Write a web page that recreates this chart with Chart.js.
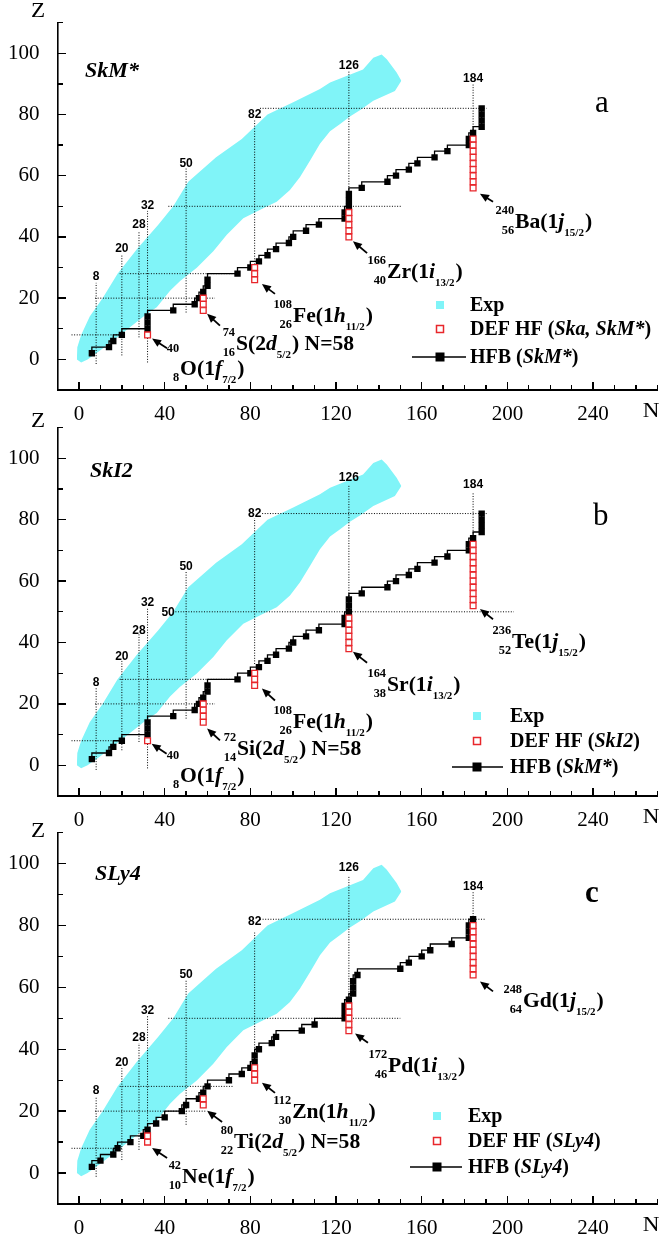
<!DOCTYPE html>
<html><head><meta charset="utf-8">
<script src="https://cdn.jsdelivr.net/npm/chart.js@4.4.1/dist/chart.umd.min.js"></script>
<style>
html,body{margin:0;padding:0;background:#fff;}
#wrap{position:relative;width:663px;height:1240px;background:#fff;overflow:hidden;}
canvas{position:absolute;left:0;}
.ax{position:absolute;background:#000;z-index:5;pointer-events:none;}
</style></head><body><div id="wrap">
<canvas id="panelA" width="663" height="430" style="top:0px"></canvas>
<canvas id="panelB" width="663" height="430" style="top:405px"></canvas>
<canvas id="panelC" width="663" height="430" style="top:810px"></canvas>
</div>
<script>
// ---------- DATA ----------
const xTickLabels = [0, 40, 80, 120, 160, 200, 240];
const yTickLabels = [0, 20, 40, 60, 80, 100];

// Exp band (known nuclei): proton-rich (upper) edge and neutron-rich (lower) edge
const expUpperN = [-1, -0.8, 1, 5, 11, 18, 27, 37, 44, 51, 64, 76, 88, 100, 112.5, 117.2, 132.6, 137.4, 141.3, 143.7, 148.3, 150.5];
const expUpperZ = [0, 4, 8, 14, 20, 28, 36, 44, 50, 58, 66, 72, 80, 84, 88.3, 90.4, 94.7, 98.5, 99.6, 98, 93.7, 91];
const expLowerN = [-1, 1, 4, 9.8, 16, 23.8, 31.6, 36.3, 42.5, 47.2, 55, 62.7, 69, 76.7, 86, 92.3, 98.5, 103.2, 107.9, 112.5, 117.2, 121.9, 126.5, 131.5, 137.4, 147.5, 150.5];
const expLowerZ = [0, -1, 0, 2.9, 6.2, 10.5, 14.8, 17, 22.4, 25.6, 29.9, 35.3, 40.7, 46.1, 49.4, 51.5, 55.3, 59.6, 65, 70.4, 74.5, 76.9, 79.3, 81.5, 84.5, 87.7, 91];

// HFB (SkM*) drip line
const hfbSkmN = [6,14,16,20,32,32,32,44,54,56,58,60,60,74,80,84,88,92,98,100,106,112,124,124,126,126,126,132,144,148,154,158,166,172,182,182,184,188,188,188,188];
const hfbSkmZ = [2,4,6,8,10,12,14,16,18,20,22,24,26,28,30,32,34,36,38,40,42,44,46,48,50,52,54,56,58,60,62,64,66,68,70,72,74,76,78,80,82];
// HFB (SLy4) drip line
const hfbSlyN = [6,10,16,18,24,30,32,36,40,48,50,56,58,60,70,76,80,82,82,84,90,92,104,110,124,124,124,126,128,128,128,130,150,154,160,164,174,182,182,182,184];
const hfbSlyZ = [2,4,6,8,10,12,14,16,18,20,22,24,26,28,30,32,34,36,38,40,42,44,46,48,50,52,54,56,58,60,62,64,66,68,70,72,74,76,78,80,82];

// DEF HF
const defAN = [32,58,58,58,82,82,82,126,126,126,126,126,184,184,184,184,184,184,184,184,184];
const defAZ = [8,16,18,20,26,28,30,40,42,44,46,48,56,58,60,62,64,66,68,70,72];
const defBN = [32,58,58,58,58,82,82,82,126,126,126,126,126,126,184,184,184,184,184,184,184,184,184,184,184];
const defBZ = [8,14,16,18,20,26,28,30,38,40,42,44,46,48,52,54,56,58,60,62,64,66,68,70,72];
const defCN = [32,32,58,58,82,82,82,126,126,126,126,126,184,184,184,184,184,184,184,184,184];
const defCZ = [10,12,22,24,30,32,34,46,48,50,52,54,64,66,68,70,72,74,76,78,80];

// Magic numbers
const magicN = [8, 20, 28, 32, 50, 82, 126, 184];
const magicZ = [8, 20, 28, 50, 82];
const vLoA = [-1.5, 1.3, 7.2, -1, 15.3, 31, 49.5, 73.3];
const vHiA = [25, 34, 42, 48.5, 62.5, 78, 94, 90];
const vLabA = [27, 36, 44, 50.3, 64, 80, 96, 91.8];
const vLoB = [-1.5, 4.9, 7.6, -1, 15.2, 33, 49.2, 73];
const vHiB = [25.3, 34, 42.7, 51.3, 63.2, 80.5, 91.4, 89];
const vLabB = [26.8, 35.5, 44, 53, 64.8, 82.1, 93.7, 91.3];
const vLoC = [-1.2, 4.2, 7.5, 10, 15.6, 31.2, 50, 82];
const vHiC = [24.7, 33.9, 42, 50.7, 62.6, 77.7, 96, 91];
const vLabC = [26.6, 35.6, 43.8, 52.6, 64.2, 81.1, 98.8, 92.6];
const hFromA = [-3.5, 7.5, 19, 41.7, 84.5];
const hToA = [20, 63.5, 73, 150.3, 190.3];
const hFromB = [-3.5, 7.5, 19, 45, 85.5];
const hToB = [20, 63.5, 73, 203, 190.3];
const hFromC = [-3.5, 7.5, 19, 41.7, 84.5];
const hToC = [20, 59.6, 72, 150, 190];

// ---------- STYLE / LAYOUT ----------
const CYAN = '#80F4F8';
const RED = '#E8262B';
const SERIF = '"Liberation Serif", "Times New Roman", serif';
const SANS = '"Liberation Sans", Arial, sans-serif';
const X_MIN = -10, X_MAX = 270, Y_MIN = -10, Y_MAX = 110;

const panels = [
  {
    id: 'panelA', canvasTop: 0, canvasH: 430, areaTop: 20, areaBottom: 390, model: 'SkM*', modelPos: [85, 77], letter: 'a', letterPos: [595, 112], letterBold: false,
    zPos: [38, 11], hfbN: hfbSkmN, hfbZ: hfbSkmZ, defN: defAN, defZ: defAZ,
    vLo: vLoA, vHi: vHiA, vLab: vLabA, hFrom: hFromA, hTo: hToA, z50Label: false,
    legend: { mx: 440, ys: [305, 329, 357], tx: 470, lx1: 412, lx2: 466, def: 'Ska, SkM*', hfb: 'SkM*' },
    nuclei: [
      { n: 47.2, z: -5.2, A: '40', Zs: '8', sym: 'O', open: '(1', l: 'f', j: '7/2', tail: ')', supDy: 27, arrow: [41.1, 3.6, 34.1, 6.8] },
      { n: 73.3, z: 3.2, A: '74', Zs: '16', sym: 'S', open: '(2', l: 'd', j: '5/2', tail: ') N=58', arrow: [65.8, 11, 59.8, 14.9] },
      { n: 99.9, z: 12.3, A: '108', Zs: '26', sym: 'Fe', open: '(1', l: 'h', j: '11/2', tail: ')', arrow: [91.5, 21.4, 85.4, 24.6] },
      { n: 143.8, z: 26.6, A: '166', Zs: '40', sym: 'Zr', open: '(1', l: 'i', j: '13/2', tail: ')', arrow: [134.5, 34.7, 127.9, 38.6] },
      { n: 203.6, z: 42.8, A: '240', Zs: '56', sym: 'Ba', open: '(1', l: 'j', j: '15/2', tail: ')', arrow: [193.3, 51.5, 187.2, 54.1] }
    ]
  },
  {
    id: 'panelB', canvasTop: 405, canvasH: 430, areaTop: 21, areaBottom: 391, model: 'SkI2', modelPos: [90, 72], letter: 'b', letterPos: [593, 120], letterBold: false,
    zPos: [38, 16], hfbN: hfbSkmN, hfbZ: hfbSkmZ, defN: defBN, defZ: defBZ,
    vLo: vLoB, vHi: vHiB, vLab: vLabB, hFrom: hFromB, hTo: hToB, z50Label: true,
    legend: { mx: 477, ys: [311, 336, 362], tx: 510, lx1: 452, lx2: 503, def: 'SkI2', hfb: 'SkM*' },
    nuclei: [
      { n: 47.2, z: -5.5, A: '40', Zs: '8', sym: 'O', open: '(1', l: 'f', j: '7/2', tail: ')', supDy: 27, arrow: [40.9, 3.8, 33.9, 7] },
      { n: 73.8, z: 3.2, A: '72', Zs: '14', sym: 'Si', open: '(2', l: 'd', j: '5/2', tail: ') N=58', arrow: [65.8, 8.1, 59.8, 12] },
      { n: 99.9, z: 12, A: '108', Zs: '26', sym: 'Fe', open: '(1', l: 'h', j: '11/2', tail: ')', arrow: [91.5, 21.1, 85.4, 25] },
      { n: 143.8, z: 24.3, A: '164', Zs: '38', sym: 'Sr', open: '(1', l: 'i', j: '13/2', tail: ')', arrow: [134.5, 33.4, 127.9, 37] },
      { n: 202.2, z: 38.2, A: '236', Zs: '52', sym: 'Te', open: '(1', l: 'j', j: '15/2', tail: ')', arrow: [193.3, 47.6, 187.2, 50.9] }
    ]
  },
  {
    id: 'panelC', canvasTop: 810, canvasH: 430, areaTop: 24, areaBottom: 394, model: 'SLy4', modelPos: [95, 70], letter: 'c', letterPos: [585, 92], letterBold: true,
    zPos: [38, 21], hfbN: hfbSlyN, hfbZ: hfbSlyZ, defN: defCN, defZ: defCZ,
    vLo: vLoC, vHi: vHiC, vLab: vLabC, hFrom: hFromC, hTo: hToC, z50Label: false,
    legend: { mx: 437, ys: [306, 331, 357], tx: 468, lx1: 410, lx2: 462, def: 'SLy4', hfb: 'SLy4' },
    nuclei: [
      { n: 48.1, z: -3.2, A: '42', Zs: '10', sym: 'Ne', open: '(1', l: 'f', j: '7/2', tail: ')', arrow: [41.1, 4.9, 34.1, 8.1] },
      { n: 72.4, z: 8.1, A: '80', Zs: '22', sym: 'Ti', open: '(2', l: 'd', j: '5/2', tail: ') N=58', arrow: [66.8, 16.5, 59.8, 20.1] },
      { n: 99.5, z: 17.8, A: '112', Zs: '30', sym: 'Zn', open: '(1', l: 'h', j: '11/2', tail: ')', arrow: [91.5, 25.9, 85.4, 29.2] },
      { n: 144.3, z: 32.7, A: '172', Zs: '46', sym: 'Pd', open: '(1', l: 'i', j: '13/2', tail: ')', arrow: [134.9, 42.1, 128.9, 45.1] },
      { n: 207.3, z: 53.5, A: '248', Zs: '64', sym: 'Gd', open: '(1', l: 'j', j: '15/2', tail: ')', arrow: [193.3, 58.7, 187.2, 61.9] }
    ]
  }
];

const zip = (a, b) => a.map((v, i) => ({ x: v, y: b[i] }));

// ---------- DRAW HELPERS ----------
function txt(ctx, s, x, y, font, sx, align) {
  ctx.font = font;
  const w = ctx.measureText(s).width * sx;
  let x0 = x;
  if (align === 'right') x0 = x - w; else if (align === 'center') x0 = x - w / 2;
  ctx.save(); ctx.translate(x0, y); ctx.scale(sx, 1); ctx.textAlign = 'left'; ctx.fillText(s, 0, 0); ctx.restore();
  return w;
}
function arrow(ctx, x1, y1, x2, y2) {
  const a = Math.atan2(y2 - y1, x2 - x1), L = 9, W = 4;
  ctx.lineWidth = 1.8;
  ctx.beginPath(); ctx.moveTo(x1, y1); ctx.lineTo(x2 - Math.cos(a) * L * 0.7, y2 - Math.sin(a) * L * 0.7); ctx.stroke();
  ctx.beginPath(); ctx.moveTo(x2, y2);
  ctx.lineTo(x2 - L * Math.cos(a) + W * Math.sin(a), y2 - L * Math.sin(a) - W * Math.cos(a));
  ctx.lineTo(x2 - L * Math.cos(a) - W * Math.sin(a), y2 - L * Math.sin(a) + W * Math.cos(a));
  ctx.closePath(); ctx.fill();
}
const SX = 1.03;
function drawNuc(ctx, px, py, L) {
  const MAIN = 'bold 21px ' + SERIF, MAINI = 'bold italic 21px ' + SERIF, SCR = 'bold 12px ' + SERIF, SUB = 'bold 11px ' + SERIF;
  ctx.textBaseline = 'alphabetic';
  const supDy = L.supDy || 18;
  txt(ctx, L.A, px - 1, py - supDy + 4, SCR, SX, 'right');
  txt(ctx, L.Zs, px - 1, py + 6, SCR, SX, 'right');
  let x = px;
  x += txt(ctx, L.sym + L.open, x, py, MAIN, SX);
  x += txt(ctx, L.l, x, py, MAINI, SX);
  x += txt(ctx, L.j, x, py + 8, SUB, 1) + 1;
  txt(ctx, L.tail, x, py, MAIN, SX);
}
function drawRich(ctx, parts, x, y, size) {
  for (const [s, st] of parts) {
    const f = (st === 'bi' ? 'bold italic ' : 'bold ') + size + 'px ' + SERIF;
    x += txt(ctx, s, x, y, f, 1);
  }
}

function makeDeco(p) {
  return {
    id: 'deco' + p.id,
    afterDraw(chart) {
      const ctx = chart.ctx, xs = chart.scales.x, ys = chart.scales.y, area = chart.chartArea;
      const X = v => xs.getPixelForValue(v), Y = v => ys.getPixelForValue(v);
      ctx.save();
      ctx.setLineDash([]);
      ctx.strokeStyle = '#000'; ctx.fillStyle = '#000';
      ctx.textBaseline = 'middle';
      magicN.forEach((n, i) => txt(ctx, String(n), X(n), Y(p.vLab[i]), 'bold 12px ' + SANS, 1, 'center'));
      if (p.z50Label) txt(ctx, '50', X(41.6), Y(49.6), 'bold 12px ' + SANS, 1, 'center');
      p.nuclei.forEach(L => {
        drawNuc(ctx, X(L.n), Y(L.z), L);
        const a = L.arrow; arrow(ctx, X(a[0]), Y(a[1]), X(a[2]), Y(a[3]));
      });
      ctx.textBaseline = 'middle';
      txt(ctx, 'Z', p.zPos[0], p.zPos[1], '22px ' + SERIF, 1.05, 'center');
      txt(ctx, 'N', 651, area.bottom + 21, '22px ' + SERIF, 1.05, 'center');
      ctx.textBaseline = 'alphabetic';
      txt(ctx, p.model, p.modelPos[0], p.modelPos[1], 'bold italic 21px ' + SERIF, 1.05);
      txt(ctx, p.letter, p.letterPos[0], p.letterPos[1], (p.letterBold ? 'bold ' : '') + '31px ' + SERIF, 1);
      const lg = p.legend;
      ctx.fillStyle = CYAN; ctx.fillRect(lg.mx - 4, lg.ys[0] - 4, 8, 8);
      ctx.fillStyle = '#fff'; ctx.fillRect(lg.mx - 3.5, lg.ys[1] - 3.5, 7, 7);
      ctx.strokeStyle = RED; ctx.lineWidth = 1.5; ctx.strokeRect(lg.mx - 3.5, lg.ys[1] - 3.5, 7, 7);
      ctx.strokeStyle = '#000'; ctx.lineWidth = 1.3;
      ctx.beginPath(); ctx.moveTo(lg.lx1, lg.ys[2]); ctx.lineTo(lg.lx2, lg.ys[2]); ctx.stroke();
      ctx.fillStyle = '#000'; ctx.fillRect(lg.mx - 4.5, lg.ys[2] - 4.5, 9, 9);
      ctx.textBaseline = 'middle';
      drawRich(ctx, [['Exp', 'b']], lg.tx, lg.ys[0] + 1, 20);
      drawRich(ctx, [['DEF HF (', 'b'], [lg.def, 'bi'], [')', 'b']], lg.tx, lg.ys[1] + 1, 20);
      drawRich(ctx, [['HFB (', 'b'], [lg.hfb, 'bi'], [')', 'b']], lg.tx, lg.ys[2] + 1, 20);
      ctx.restore();
    }
  };
}

function buildDatasets(p) {
  const ds = [];
  ds.push({ label: 'Exp', data: zip(expUpperN, expUpperZ), fill: 1, backgroundColor: CYAN, borderColor: CYAN, borderWidth: 0, pointRadius: 0, order: 10 });
  ds.push({ label: 'Exp edge', data: zip(expLowerN, expLowerZ), fill: false, borderColor: CYAN, borderWidth: 0, pointRadius: 0, order: 10 });
  magicN.forEach((n, i) => ds.push({ label: 'N=' + n, data: [{ x: n, y: p.vLo[i] }, { x: n, y: p.vHi[i] }], borderColor: '#000', borderWidth: 1, borderDash: [1, 1.6], pointRadius: 0, fill: false, order: 5 }));
  magicZ.forEach((z, i) => ds.push({ label: 'Z=' + z, data: [{ x: p.hFrom[i], y: z }, { x: p.hTo[i], y: z }], borderColor: '#000', borderWidth: 1, borderDash: [1, 1.6], pointRadius: 0, fill: false, order: 5 }));
  ds.push({ label: 'HFB', data: zip(p.hfbN, p.hfbZ), stepped: 'after', borderColor: '#000', borderWidth: 1.3, pointStyle: 'rect', pointRadius: 4.5, pointBackgroundColor: '#000', pointBorderColor: '#000', pointBorderWidth: 0, fill: false, order: 2 });
  ds.push({ label: 'DEF HF', data: zip(p.defN, p.defZ), showLine: false, pointStyle: 'rect', pointRadius: 4.1, pointBackgroundColor: '#fff', pointBorderColor: RED, pointBorderWidth: 1.3, fill: false, order: 1 });
  return ds;
}

// axis frame and inward ticks, placed from the chart's own scales
function addAxisOverlay(chart, p) {
  const wrap = document.getElementById('wrap');
  const area = chart.chartArea, xs = chart.scales.x, ys = chart.scales.y, t0 = p.canvasTop;
  const bar = (l, t, w, h) => {
    const d = document.createElement('div'); d.className = 'ax';
    d.style.left = l + 'px'; d.style.top = t + 'px'; d.style.width = w + 'px'; d.style.height = h + 'px';
    wrap.appendChild(d);
  };
  bar(area.left - 0.8, t0 + area.top, 1.6, area.bottom - area.top + 0.8);
  bar(area.left - 0.8, t0 + area.bottom - 0.8, area.right - area.left + 1.6, 1.6);
  for (let v = 0; v <= X_MAX; v += 10) {
    const len = (v % 40 === 0) ? 8 : 5, px = xs.getPixelForValue(v);
    bar(px - 0.7, t0 + area.bottom - len, 1.4, len);
  }
  for (let v = 0; v <= Y_MAX; v += 10) {
    const len = (v % 20 === 0) ? 8 : 5, py = ys.getPixelForValue(v);
    bar(area.left, t0 + py - 0.7, len, 1.4);
  }
}

panels.forEach(p => {
  const chart = new Chart(document.getElementById(p.id), {
    type: 'line',
    data: { datasets: buildDatasets(p) },
    options: {
      responsive: false, animation: false, events: [],
      layout: { padding: { top: p.areaTop - 2.6, left: 0, right: 5.7, bottom: 0 } },
      plugins: { legend: { display: false }, tooltip: { enabled: false } },
      scales: {
        x: {
          type: 'linear', min: X_MIN, max: X_MAX,
          grid: { display: false },
          border: { display: true, color: '#000', width: 1.6 },
          ticks: { stepSize: 10, autoSkip: false, maxRotation: 0, padding: 4, color: '#000', font: { family: 'Liberation Serif', size: 21 },
                   callback: v => xTickLabels.includes(v) ? String(v) : '' },
          afterFit: s => { s.height = p.canvasH - p.areaBottom; }
        },
        y: {
          type: 'linear', min: Y_MIN, max: Y_MAX,
          grid: { display: false },
          border: { display: true, color: '#000', width: 1.6 },
          ticks: { stepSize: 10, autoSkip: false, padding: 10, color: '#000', font: { family: 'Liberation Serif', size: 21 },
                   callback: v => yTickLabels.includes(v) ? String(v) : '' },
          afterFit: s => { s.width = 57.6; }
        }
      }
    },
    plugins: [makeDeco(p)]
  });
  addAxisOverlay(chart, p);
});
</script>
</body></html>
